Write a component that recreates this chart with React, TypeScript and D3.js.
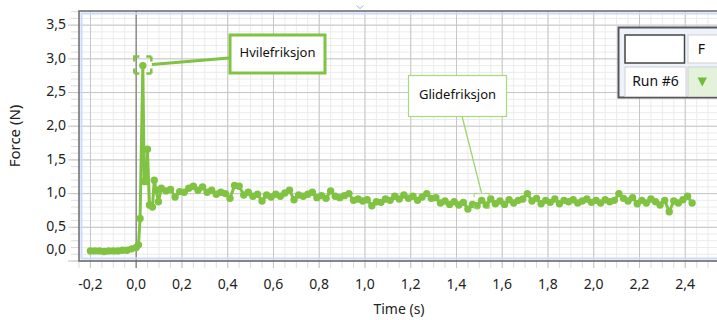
import { useEffect, useRef } from 'react';
import * as d3 from 'd3';

const width = 717;
const height = 320;

// Force sensor run, before the pull starts (s / N)
const preTimes = [-0.20, -0.18, -0.16, -0.14, -0.12, -0.10, -0.08, -0.06, -0.04, -0.02];
const preForce = [0.15, 0.15, 0.15, 0.14, 0.15, 0.15, 0.15, 0.16, 0.16, 0.18];

// Static friction spike
const spikeTimes = [0.000, 0.010, 0.017, 0.029, 0.035, 0.044, 0.049, 0.058, 0.071, 0.079, 0.087, 0.097];
const spikeForce = [0.20, 0.24, 0.63, 2.90, 1.18, 1.18, 1.66, 0.83, 0.80, 1.20, 1.05, 0.88];

// Sliding friction, one sample every 0.02 s from 0.11 s
const slideStart = 0.11;
const slideStep = 0.02;
const slideForce = [
    1.08, 1.04, 1.06, 0.95, 1.03,
    1.02, 1.08, 1.11, 1.05, 1.10,
    1.02, 1.05, 0.99, 1.02, 1.00,
    0.93, 1.12, 1.11, 0.98, 1.02,
    0.96, 0.99, 0.89, 0.98, 0.95,
    0.99, 0.96, 1.01, 1.05, 0.91,
    0.98, 0.96, 0.99, 1.02, 0.94,
    0.97, 0.93, 1.04, 0.96, 0.94,
    0.97, 1.00, 0.90, 0.92, 0.89,
    0.91, 0.82, 0.88, 0.87, 0.92,
    0.90, 0.96, 0.92, 0.98, 0.93,
    0.96, 0.90, 0.95, 1.00, 0.93,
    0.94, 0.86, 0.89, 0.84, 0.88,
    0.83, 0.87, 0.77, 0.84, 0.82,
    0.90, 0.83, 0.92, 0.85, 0.89,
    0.84, 0.91, 0.86, 0.90, 0.92,
    1.00, 0.89, 0.93, 0.85, 0.90,
    0.87, 0.92, 0.85, 0.90, 0.88,
    0.91, 0.86, 0.89, 0.92, 0.87,
    0.90, 0.86, 0.91, 0.88, 0.90,
    1.00, 0.93, 0.89, 0.94, 0.85,
    0.90, 0.86, 0.92, 0.88, 0.83,
    0.90, 0.73, 0.89, 0.86, 0.91,
    0.96, 0.86
];

const xTicks = [-0.2, 0, 0.2, 0.4, 0.6, 0.8, 1.0, 1.2, 1.4, 1.6, 1.8, 2.0, 2.2, 2.4];
const yTicks = [0, 0.5, 1.0, 1.5, 2.0, 2.5, 3.0, 3.5];

const staticLabel = "Hvilefriksjon";
const slideLabel = "Glidefriksjon";
const runLabel = "Run #6";
const columnLabel = "F";

const green = "#80c342";
const font = "'Noto Sans', sans-serif";

function FrictionChart() {
    const ref = useRef<SVGSVGElement>(null);

    useEffect(() => {
        const svg = d3.select(ref.current);
        svg.selectAll("*").remove();

        const left = 79, top = 11, bottom = 261;
        const x = d3.scaleLinear().domain([-0.25, 2.6]).range([left, 731]);
        const y = d3.scaleLinear().domain([0, 3.71]).range([bottom, top]);
        const fmt = (v: number) => d3.format(".1f")(v).replace(".", ",").replace("−", "-");

        const data: [number, number][] = [
            ...preTimes.map((t, i) => [t, preForce[i]] as [number, number]),
            ...spikeTimes.map((t, i) => [t, spikeForce[i]] as [number, number]),
            ...slideForce.map((v, i) => [slideStart + i * slideStep, v] as [number, number])
        ];

        svg.append("rect").attr("width", width).attr("height", height).attr("fill", "#fff");

        // plot background + grid
        const plotRight = width + 5;
        svg.append("rect").attr("x", left).attr("y", top)
            .attr("width", plotRight - left).attr("height", bottom - top).attr("fill", "#fff");

        const g = svg.append("g");
        d3.range(0, 3.71, 0.1).forEach(v => {
            g.append("line").attr("x1", left).attr("x2", plotRight)
                .attr("y1", y(v)).attr("y2", y(v)).attr("stroke", "#ebebeb");
            g.append("line").attr("x1", 71).attr("x2", left)
                .attr("y1", y(v)).attr("y2", y(v)).attr("stroke", "#dcdcdc");
        });
        d3.range(-0.25, 2.6, 0.05).forEach(t => {
            g.append("line").attr("y1", top).attr("y2", bottom)
                .attr("x1", x(t)).attr("x2", x(t)).attr("stroke", "#ebebeb");
            g.append("line").attr("y1", bottom).attr("y2", 268)
                .attr("x1", x(t)).attr("x2", x(t)).attr("stroke", "#dcdcdc");
        });
        yTicks.forEach(v => {
            g.append("line").attr("x1", 68).attr("x2", plotRight)
                .attr("y1", y(v)).attr("y2", y(v)).attr("stroke", "#c6c6c6");
            g.append("text")
                .attr("x", 66).attr("y", Math.min(y(v), bottom - 11))
                .attr("text-anchor", "end").attr("dominant-baseline", "middle")
                .attr("font-family", font).attr("font-size", 14).attr("fill", "#222")
                .text(fmt(v));
        });
        xTicks.forEach(t => {
            g.append("line").attr("y1", top).attr("y2", 268)
                .attr("x1", x(t)).attr("x2", x(t))
                .attr("stroke", t === 0 ? "#8c8c8c" : "#c6c6c6")
                .attr("stroke-width", t === 0 ? 1.5 : 1);
            g.append("text")
                .attr("x", x(t)).attr("y", 285)
                .attr("text-anchor", "middle").attr("dominant-baseline", "middle")
                .attr("font-family", font).attr("font-size", 14).attr("fill", "#222")
                .text(fmt(t));
        });

        // frame: dark border with a light blue inner edge
        svg.append("path")
            .attr("d", `M${plotRight},${top + 2.5}H${left + 2.5}V${bottom - 2.5}H${plotRight}`)
            .attr("fill", "none").attr("stroke", "#cdd9fb").attr("stroke-width", 2);
        svg.append("path")
            .attr("d", `M${plotRight},${top}H${left}V${bottom}H${plotRight}`)
            .attr("fill", "none").attr("stroke", "#6a6a6a").attr("stroke-width", 1.5);

        // series
        svg.append("path").datum(data)
            .attr("d", d3.line<[number, number]>().x(d => x(d[0])).y(d => y(d[1])))
            .attr("fill", "none").attr("stroke", green).attr("stroke-width", 3);
        svg.append("g").selectAll("circle").data(data).enter().append("circle")
            .attr("cx", d => x(d[0])).attr("cy", d => y(d[1])).attr("r", 3.7)
            .attr("fill", green);

        // static friction annotation
        const peak = data[preTimes.length + 3];
        const px = x(peak[0]), py = y(peak[1]);
        svg.append("rect").attr("x", px - 8.5).attr("y", py - 9).attr("width", 17).attr("height", 17)
            .attr("fill", "none").attr("stroke", green).attr("stroke-width", 2.5)
            .attr("stroke-dasharray", "5 7 5 0");
        svg.append("line").attr("x1", px + 9).attr("y1", py - 1).attr("x2", 229).attr("y2", 58)
            .attr("stroke", green).attr("stroke-width", 3);
        svg.append("rect").attr("x", 230).attr("y", 35).attr("width", 95).attr("height", 38)
            .attr("fill", "#fff").attr("stroke", green).attr("stroke-width", 3);
        svg.append("text").attr("x", 277.5).attr("y", 54)
            .attr("text-anchor", "middle").attr("dominant-baseline", "middle")
            .attr("font-family", font).attr("font-size", 13).attr("fill", "#111")
            .text(staticLabel);

        // sliding friction annotation
        const slidePt = data[preTimes.length + spikeTimes.length + 70];
        const sx = x(slidePt[0]), sy = y(slidePt[1]);
        svg.append("rect").attr("x", sx - 7.5).attr("y", sy - 7).attr("width", 15).attr("height", 15)
            .attr("fill", "none").attr("stroke", "#9fd46e").attr("stroke-width", 1)
            .attr("stroke-dasharray", "4 7 4 0");
        svg.append("line").attr("x1", 462).attr("y1", 116).attr("x2", sx).attr("y2", sy - 7)
            .attr("stroke", "#9fd46e").attr("stroke-width", 1.3);
        svg.append("rect").attr("x", 408.5).attr("y", 75.5).attr("width", 98).attr("height", 41)
            .attr("fill", "#fff").attr("stroke", "#a8d97a").attr("stroke-width", 1.2);
        svg.append("text").attr("x", 457.5).attr("y", 96)
            .attr("text-anchor", "middle").attr("dominant-baseline", "middle")
            .attr("font-family", font).attr("font-size", 13).attr("fill", "#111")
            .text(slideLabel);

        // axis titles
        svg.append("text").attr("x", 399).attr("y", 310)
            .attr("text-anchor", "middle").attr("dominant-baseline", "middle")
            .attr("font-family", font).attr("font-size", 14).attr("fill", "#222")
            .text("Time (s)");
        svg.append("text").attr("transform", "translate(16,136) rotate(-90)")
            .attr("text-anchor", "middle").attr("dominant-baseline", "middle")
            .attr("font-family", font).attr("font-size", 15).attr("fill", "#222")
            .text("Force (N)");

        // run legend box
        const lg = svg.append("g");
        lg.append("rect").attr("x", 618.5).attr("y", 27.5).attr("width", 120).attr("height", 70)
            .attr("fill", "#edf2fd").attr("stroke", "#555").attr("stroke-width", 2);
        lg.append("rect").attr("x", 625).attr("y", 35).attr("width", 59.5).attr("height", 28)
            .attr("fill", "#fff").attr("stroke", "#444").attr("stroke-width", 1.5);
        lg.append("rect").attr("x", 688).attr("y", 35).attr("width", 40).attr("height", 28)
            .attr("fill", "#fff").attr("stroke", "#d0d0d0");
        lg.append("rect").attr("x", 625).attr("y", 67).attr("width", 61).attr("height", 29.5)
            .attr("fill", "#fff").attr("stroke", "#d0d0d0");
        lg.append("rect").attr("x", 688).attr("y", 67).attr("width", 40).attr("height", 29.5)
            .attr("fill", "#e4f2dc").attr("stroke", "#d0d0d0");
        lg.append("path").attr("d", "M697.5,77.5H707L702.25,86.5Z").attr("fill", "#6cbf3c");
        lg.append("text").attr("x", 701.5).attr("y", 50)
            .attr("text-anchor", "middle").attr("dominant-baseline", "middle")
            .attr("font-family", font).attr("font-size", 14).attr("fill", "#111")
            .text(columnLabel);
        lg.append("text").attr("x", 655.5).attr("y", 82)
            .attr("text-anchor", "middle").attr("dominant-baseline", "middle")
            .attr("font-family", font).attr("font-size", 14).attr("fill", "#111")
            .text(runLabel);

        // small chevron at the top
        svg.append("path").attr("d", "M356.5,5.5L360,8.5L363.5,5.5")
            .attr("fill", "none").attr("stroke", "#9ab2ec").attr("stroke-width", 1);
    }, []);

    return (
        <svg ref={ref} width={width} height={height}
            style={{ position: 'absolute', left: 0, top: 0, display: 'block' }} />
    );
}

export default function App() {
    return <FrictionChart />;
}
